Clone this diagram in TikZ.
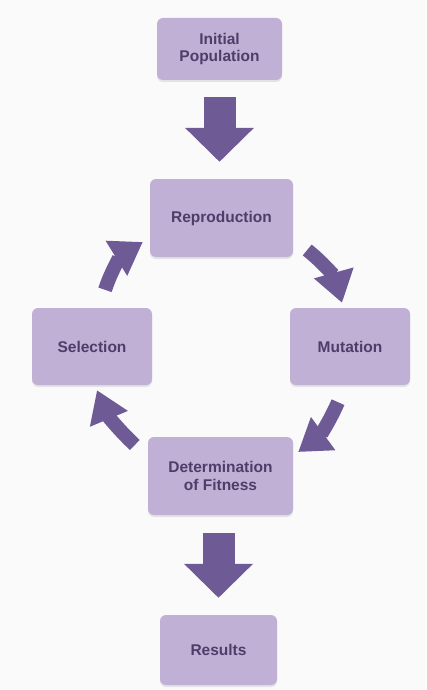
\documentclass[tikz,border=0pt]{standalone}
\usepackage{fontspec}
\setmainfont{Liberation Sans}
\usetikzlibrary{arrows.meta,calc,shadows}

\definecolor{lavender}{RGB}{192,176,213}
\definecolor{plumtext}{RGB}{80,60,104}
\definecolor{grape}{RGB}{110,90,148}
\definecolor{paper}{RGB}{250,250,250}

\tikzset{
	stagebox/.style={rectangle,rounded corners=6pt,fill=lavender,text=plumtext,
		font=\fontsize{15.5}{17.5}\selectfont\bfseries,align=center,
		drop shadow={shadow xshift=0pt,shadow yshift=-2pt,opacity=0.18}},
	bigarrow/.style={grape,line width=32pt,-{Triangle[width=67pt,length=34pt]}},
	looparrow/.style={grape,line width=14pt,-{Triangle[width=39pt,length=31pt]}}
}

\begin{document}
\begin{tikzpicture}[x=1pt,y=1pt]
		\fill[paper] (0,0) rectangle (426,-690);
		\useasboundingbox (0,0) rectangle (426,-690);
		
		\node[stagebox,minimum width=125pt,minimum height=62pt] (init) at (219.5,-49) {Initial\\Population};
		\node[stagebox,minimum width=143pt,minimum height=78pt] (repro) at (221.5,-218) {Reproduction};
		\node[stagebox,minimum width=120pt,minimum height=77pt] (sel) at (92,-346.5) {Selection};
		\node[stagebox,minimum width=120pt,minimum height=77pt] (mut) at (350,-346.5) {Mutation};
		\node[stagebox,minimum width=145pt,minimum height=78pt] (det) at (220.5,-476) {Determination\\of Fitness};
		\node[stagebox,minimum width=117pt,minimum height=70pt] (res) at (218.5,-650) {Results};
		
		% block arrows in and out of the loop
		\draw[bigarrow,shorten <=17pt,shorten >=17pt] (init.south) -- (init.south |- repro.north);
		\draw[bigarrow,shorten <=18pt,shorten >=17pt] (res.north |- det.south) -- (res.north);
		
		% the loop, clockwise
		\draw[looparrow] ($(sel.north)+(13,18)$) to[bend left=20] ($(repro.west)+(-7,-24)$);
		\draw[looparrow] ($(repro.east)+(14,-32)$) to[bend left=18] ($(mut.north)+(-8,5)$);
		\draw[looparrow] ($(mut.south)+(-12,-17)$) to[bend left=15] ($(det.east)+(5,24)$);
		\draw[looparrow] ($(det.west)+(-13,31)$) to[bend left=12] ($(sel.south)+(5,-5)$);
	
	\end{tikzpicture}
\end{document}
